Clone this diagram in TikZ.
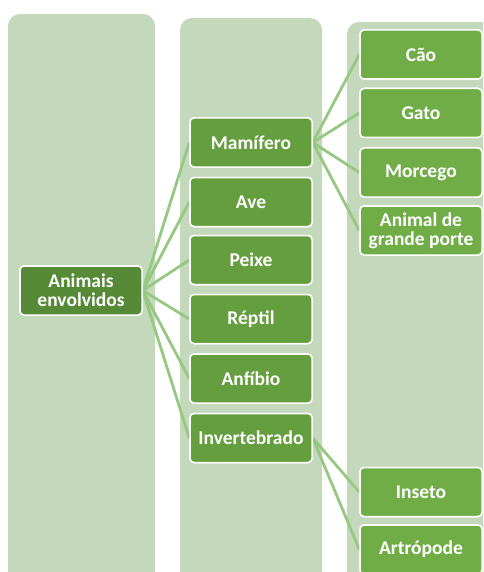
\documentclass[tikz,border=0pt]{standalone}
\usepackage{fontspec}
\setmainfont{Carlito}
\definecolor{colbg}{HTML}{C4D8BB}
\definecolor{rootc}{HTML}{568A36}
\definecolor{lvtwo}{HTML}{659E3E}
\definecolor{lvthree}{HTML}{70AD47}
\definecolor{linkc}{HTML}{96C882}
\begin{document}
\begin{tikzpicture}[x=1pt,y=-1pt,
  colbox/.style={fill=colbg,rounded corners=12pt,draw=none},
  gbox/.style={draw=white,line width=1.5pt,rounded corners=4pt,text=white,
    font=\fontsize{19.5}{19}\selectfont\bfseries,align=center,inner sep=0pt,
    minimum width=122pt,minimum height=49pt},
  rootbox/.style={gbox,fill=rootc},
  twobox/.style={gbox,fill=lvtwo},
  threebox/.style={gbox,fill=lvthree},
  link/.style={draw=linkc,line width=2.8pt}]
\useasboundingbox (0,0) rectangle (483,572);
\clip (0,0) rectangle (483,572);
% column backgrounds
\fill[colbox] (8,14) rectangle (155,584);
\fill[colbox] (180,18) rectangle (322,584);
\fill[colbox] (347,22) rectangle (500,584);
% nodes (positions)
\node[rootbox] (root) at (81,290.5) {Animais\\envolvidos};
\node[twobox] (mam) at (251,142.5) {Mamífero};
\node[twobox] (ave) at (251,202) {Ave};
\node[twobox] (pei) at (251,260) {Peixe};
\node[twobox] (rep) at (251,319) {Réptil};
\node[twobox] (anf) at (251,378.5) {Anfíbio};
\node[twobox] (inv) at (251,438) {Invertebrado};
\node[threebox] (cao) at (421,54.5) {Cão};
\node[threebox] (gat) at (421,113) {Gato};
\node[threebox] (mor) at (421,172.5) {Morcego};
\node[threebox] (agp) at (421,230.5) {Animal de\\grande porte};
\node[threebox] (ins) at (421,492) {Inseto};
\node[threebox] (art) at (421,549.5) {Artrópode};
% connectors
\foreach \t in {mam,ave,pei,rep,anf,inv}
  \draw[link] (root.east) -- (\t.west);
\foreach \t in {cao,gat,mor,agp}
  \draw[link] (mam.east) -- (\t.west);
\foreach \t in {ins,art}
  \draw[link] (inv.east) -- (\t.west);
% redraw nodes on top of connectors
\node[rootbox] at (81,290.5) {Animais\\envolvidos};
\foreach \p/\s in {142.5/Mamífero,202/Ave,260/Peixe,319/Réptil,378.5/Anfíbio,438/Invertebrado}
  \node[twobox] at (251,\p) {\s};
\foreach \p/\s in {54.5/Cão,113/Gato,172.5/Morcego,492/Inseto,549.5/Artrópode}
  \node[threebox] at (421,\p) {\s};
\node[threebox] at (421,230.5) {Animal de\\grande porte};
\end{tikzpicture}
\end{document}
